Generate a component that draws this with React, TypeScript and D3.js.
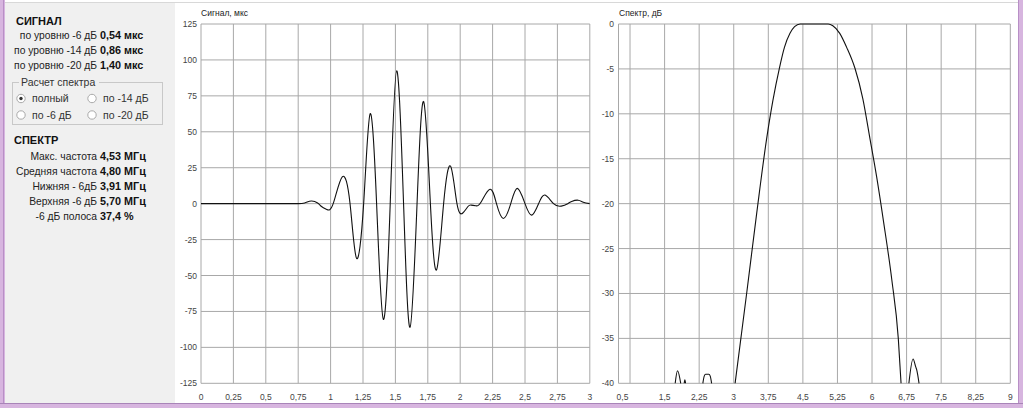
import React from 'react';
import * as d3 from 'd3';

// ---------- data ----------
const signalTime = [0, 0.25, 0.5, 0.7, 0.75, 0.8, 0.85, 0.9, 0.93, 0.97, 1.02, 1.09, 1.15, 1.2, 1.255, 1.305, 1.355, 1.407, 1.46, 1.51, 1.563, 1.613, 1.667, 1.718, 1.77, 1.818, 1.872, 1.926, 1.975, 2.02, 2.06, 2.085, 2.12, 2.16, 2.23, 2.28, 2.333, 2.39, 2.441, 2.5, 2.552, 2.605, 2.654, 2.72, 2.78, 2.83, 2.86, 2.91, 2.95, 3.0];
const signalAmp = [0, 0, 0, 0, 0, 0.5, 1.8, 0.5, -2, -4, 0, 18.7, 0, -38, 0, 62.5, 0, -80.5, 0, 92.5, 0, -86, 0, 71, 0, -46, 0, 26, 0, -6.5, -2, -1, -1.5, 1, 10, 0, -10.3, 0, 10.6, 0, -8, 0, 6, 0, -1.7, 0, 1.5, 2.4, 1, 0];

const spectrumFreq = [0.5, 1.7, 1.73, 1.78, 1.85, 1.9, 1.925, 1.94, 1.955, 2.0, 2.33, 2.36, 2.39, 2.46, 2.49, 2.52, 2.6, 3.0, 3.03, 3.28, 3.5, 3.71, 3.85, 3.99, 4.1, 4.22, 4.32, 4.44, 5.05, 5.15, 5.3, 5.45, 5.63, 5.8, 5.96, 6.1, 6.25, 6.43, 6.57, 6.63, 6.7, 6.8, 6.89, 6.95, 6.97, 7.02, 7.1, 9.0];
const spectrumDb = [-60, -60, -40, -38.6, -40, -60, -40, -39.6, -40, -60, -40, -39.2, -39.0, -39.0, -39.2, -40, -60, -60, -40, -30, -21, -12.9, -8.5, -4.93, -2.6, -1.04, -0.3, 0, 0, -0.2, -1.04, -2.6, -4.93, -8.3, -12.9, -17, -22, -28.5, -35, -40, -60, -40, -37.3, -38.2, -38.5, -40, -60, -60];

const signalXTicks = [0, 0.25, 0.5, 0.75, 1, 1.25, 1.5, 1.75, 2, 2.25, 2.5, 2.75, 3];
const signalYTicks = [125, 100, 75, 50, 25, 0, -25, -50, -75, -100, -125];
const spectrumXGrid = [0.75, 1.5, 2.25, 3, 3.75, 4.5, 5.25, 6, 6.75, 7.5, 8.25, 9];
const spectrumXLabels = [0.5, 1.5, 2.25, 3, 3.75, 4.5, 5.25, 6, 6.75, 7.5, 8.25, 9];
const spectrumYTicks = [0, -5, -10, -15, -20, -25, -30, -35, -40];

const signalRows = [
  { label: 'по уровню -6 дБ', value: '0,54 мкс' },
  { label: 'по уровню -14 дБ', value: '0,86 мкс' },
  { label: 'по уровню -20 дБ', value: '1,40 мкс' },
];
const spectrumRows = [
  { label: 'Макс. частота', value: '4,53 МГц' },
  { label: 'Средняя частота', value: '4,80 МГц' },
  { label: 'Нижняя - 6дБ', value: '3,91 МГц' },
  { label: 'Верхняя -6 дБ', value: '5,70 МГц' },
  { label: '-6 дБ полоса', value: '37,4 %' },
];
const radioOptions = [
  { label: 'полный', col: 0, row: 0, checked: true },
  { label: 'по -14 дБ', col: 1, row: 0, checked: false },
  { label: 'по -6 дБ', col: 0, row: 1, checked: false },
  { label: 'по -20 дБ', col: 1, row: 1, checked: false },
];

const fmt = (v: number) => String(v).replace('.', ',');

const W = 1023;
const H = 408;
const FONT = '"Liberation Sans", Arial, sans-serif';
const GRID = '#a8a8a8';
const TICK = '#444';

export default function App() {
  // signal chart scales
  const sx = d3.scaleLinear().domain([0, 3]).range([201, 589.8]);
  const sy = d3.scaleLinear().domain([-125, 125]).range([383.3, 24]);
  // spectrum chart scales
  const fx = d3.scaleLinear().domain([0.5, 9]).range([618.5, 1010.3]);
  const fy = d3.scaleLinear().domain([-40, 0]).range([383.3, 24]);

  const sigData = signalTime.map((t, i) => [t, signalAmp[i]] as [number, number]);
  const specData = spectrumFreq.map((f, i) => [f, spectrumDb[i]] as [number, number]);

  const sigLine = d3
    .line<[number, number]>()
    .x((d) => sx(d[0]))
    .y((d) => sy(d[1]))
    .curve(d3.curveNatural)(sigData) as string;

  const specLine = d3
    .line<[number, number]>()
    .defined((d) => d[1] >= -40)
    .x((d) => fx(d[0]))
    .y((d) => fy(d[1]))
    .curve(d3.curveMonotoneX)(specData) as string;

  const labelRight = 97;
  const valueLeft = 100;

  return (
    <svg
      width={W}
      height={H}
      style={{ position: 'absolute', left: 0, top: 0, display: 'block' }}
      fontFamily={FONT}
    >
      <defs>
        <clipPath id="sigClip">
          <rect x={sx(0)} y={sy(125)} width={sx(3) - sx(0)} height={sy(-125) - sy(125)} />
        </clipPath>
      </defs>
      {/* window frame */}
      <rect x={0} y={0} width={W} height={H} fill="#d7b5df" />
      <rect x={5} y={0} width={1013} height={403} fill="#ffffff" />
      <line x1={5} x2={1018} y1={2.5} y2={2.5} stroke="#d8d8d8" />
      {/* left panel */}
      <rect x={5} y={3} width={170} height={400} fill="#f0f0f0" />
      <line x1={3.5} x2={3.5} y1={0} y2={403} stroke="#b88fc6" />
      <line x1={0} x2={W} y1={403.5} y2={403.5} stroke="#a884b8" />
      <line x1={1018.5} x2={1018.5} y1={0} y2={403} stroke="#b88fc6" />

      {/* signal stats */}
      <text x={16} y={25} fontSize={11} fontWeight="bold" fill="#111">СИГНАЛ</text>
      {signalRows.map((r, i) => (
        <g key={r.label}>
          <text x={labelRight} y={39 + i * 15} fontSize={10.3} textAnchor="end" fill="#222">{r.label}</text>
          <text x={valueLeft} y={39 + i * 15} fontSize={10.8} fontWeight="bold" fill="#111">{r.value}</text>
        </g>
      ))}

      {/* group box */}
      <rect x={12.5} y={82.5} width={150} height={42} fill="none" stroke="#c8c8c8" />
      <rect x={19} y={76} width={80} height={12} fill="#f0f0f0" />
      <text x={21} y={86} fontSize={10.5} fill="#333">Расчет спектра</text>
      {radioOptions.map((o) => {
        const cx = 21 + o.col * 71;
        const cy = 98.5 + o.row * 16.5;
        return (
          <g key={o.label}>
            <circle cx={cx} cy={cy} r={4.2} fill="#fff" stroke="#a0a0a0" strokeWidth={0.9} />
            {o.checked && <circle cx={cx} cy={cy} r={1.7} fill="#333" />}
            <text x={cx + 11} y={cy + 3.8} fontSize={10.5} fill="#333">{o.label}</text>
          </g>
        );
      })}

      {/* spectrum stats */}
      <text x={14} y={144} fontSize={11} fontWeight="bold" fill="#111">СПЕКТР</text>
      {spectrumRows.map((r, i) => (
        <g key={r.label}>
          <text x={labelRight} y={160 + i * 15} fontSize={10.3} textAnchor="end" fill="#222">{r.label}</text>
          <text x={valueLeft} y={160 + i * 15} fontSize={10.8} fontWeight="bold" fill="#111">{r.value}</text>
        </g>
      ))}

      {/* ---------- signal chart ---------- */}
      <text x={201} y={16} fontSize={8.5} fill="#222">Сигнал, мкс</text>
      {signalXTicks.map((t) => (
        <line key={'sxg' + t} x1={sx(t)} x2={sx(t)} y1={sy(125)} y2={sy(-125)} stroke={GRID} strokeWidth={1} />
      ))}
      {signalYTicks.map((v) => (
        <line key={'syg' + v} x1={sx(0)} x2={sx(3)} y1={sy(v)} y2={sy(v)} stroke={GRID} strokeWidth={1} />
      ))}
      {signalYTicks.map((v) => (
        <text key={'syl' + v} x={197} y={sy(v) + 3} fontSize={8.5} textAnchor="end" fill={TICK}>{fmt(v)}</text>
      ))}
      {signalXTicks.map((t) => (
        <text key={'sxl' + t} x={sx(t)} y={400} fontSize={8.5} textAnchor="middle" fill={TICK}>{fmt(t)}</text>
      ))}
      <path d={sigLine} fill="none" stroke="#111" strokeWidth={1.1} clipPath="url(#sigClip)" />

      {/* ---------- spectrum chart ---------- */}
      <text x={619} y={16} fontSize={8.5} fill="#222">Спектр, дБ</text>
      <line x1={fx(0.5)} x2={fx(0.5)} y1={fy(0)} y2={fy(-40)} stroke={GRID} />
      {spectrumXGrid.map((t) => (
        <line key={'fxg' + t} x1={fx(t)} x2={fx(t)} y1={fy(0)} y2={fy(-40)} stroke={GRID} />
      ))}
      {spectrumYTicks.map((v) => (
        <line key={'fyg' + v} x1={fx(0.5)} x2={fx(9)} y1={fy(v)} y2={fy(v)} stroke={GRID} />
      ))}
      {spectrumYTicks.map((v) => (
        <text key={'fyl' + v} x={614} y={fy(v) + 3} fontSize={8.5} textAnchor="end" fill={TICK}>{fmt(v)}</text>
      ))}
      {spectrumXLabels.map((t) => (
        <text key={'fxl' + t} x={fx(t) + (t === 0.5 ? 4 : 0)} y={400} fontSize={8.5} textAnchor="middle" fill={TICK}>{fmt(t)}</text>
      ))}
      <path d={specLine} fill="none" stroke="#111" strokeWidth={1.1} />
    </svg>
  );
}
